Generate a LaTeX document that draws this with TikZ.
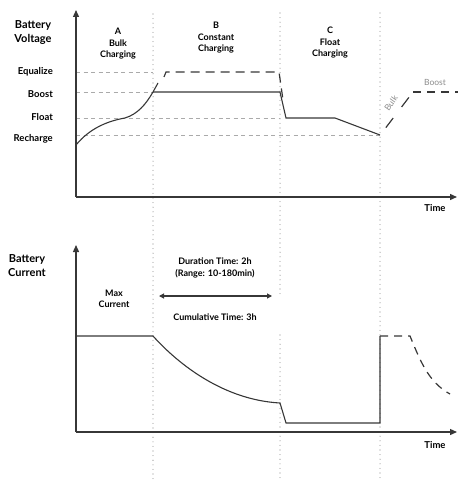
\documentclass[tikz,border=0pt]{standalone}
\usepackage{fontspec}
\setmainfont{Lato}
\usetikzlibrary{arrows.meta}
\definecolor{guide_gray}{RGB}{140,140,140}
\definecolor{level_gray}{RGB}{170,170,170}
\definecolor{curve_dark}{RGB}{55,55,55}
\tikzstyle{axis}=[line width=1.3pt,draw=curve_dark,-{Triangle[length=7pt,width=6pt]}]
\tikzstyle{phase}=[draw=guide_gray,line width=1.1pt,line cap=round,
  dash pattern=on 0pt off 4.6pt]
\tikzstyle{level}=[draw=level_gray,line width=0.5pt,dash pattern=on 4pt off 3.5pt]
\tikzstyle{curve}=[draw=curve_dark,line width=1.1pt]
\tikzstyle{future}=[draw=curve_dark,line width=1.2pt,dash pattern=on 8pt off 6pt]
\tikzstyle{title}=[font=\bfseries\fontsize{11}{14}\selectfont,align=center,inner sep=0pt]
\tikzstyle{lvl}=[font=\bfseries\fontsize{9.5}{10}\selectfont,anchor=east,inner sep=0pt]
\tikzstyle{lbl}=[font=\bfseries\fontsize{9}{11.5}\selectfont,align=center,inner sep=0pt]
\tikzstyle{note}=[font=\fontsize{8.5}{10}\selectfont,text=guide_gray,inner sep=0pt]

\begin{document}
\begin{tikzpicture}[x=1pt,y=-1pt]
    \useasboundingbox (0,0) rectangle (458,481);
    % phase boundaries
    \coordinate (pa1) at (153,14);
    \coordinate (pa2) at (153,481);
    \coordinate (pb1) at (280,13);
    \coordinate (pb2) at (280,298);
    \coordinate (pb3) at (280,335);
    \coordinate (pb4) at (280,481);
    \coordinate (pc1) at (380,13);
    \coordinate (pc2) at (380,481);
    \draw [style=phase] (pa1) to (pa2);
    \draw [style=phase] (pb1) to (pb2);
    \draw [style=phase] (pb3) to (pb4);
    \draw [style=phase] (pc1) to (pc2);
    % voltage levels
    \coordinate (eq0) at (76,72);
    \coordinate (eq1) at (153,72);
    \coordinate (bo0) at (76,92);
    \coordinate (bo1) at (153,92);
    \coordinate (fl0) at (76,118);
    \coordinate (fl1) at (280,118);
    \coordinate (re0) at (76,135);
    \coordinate (re1) at (380,135);
    \draw [style=level] (eq0) to (eq1);
    \draw [style=level] (bo0) to (bo1);
    \draw [style=level] (fl0) to (fl1);
    \draw [style=level] (re0) to (re1);
    % voltage axes
    \coordinate (vo) at (76,197);
    \coordinate (vtop) at (76,10);
    \coordinate (vend) at (457,197);
    \draw [style=axis] (vo) to (vtop);
    \draw [style=axis] (vo) to (vend);
    % voltage curve
    \coordinate (v0) at (76,145);
    \coordinate (v1) at (125,118);
    \coordinate (v2) at (153,92);
    \coordinate (v3) at (158,83);
    \coordinate (v4) at (280,92);
    \coordinate (v5) at (286,118);
    \coordinate (v6) at (335,118);
    \coordinate (v7) at (380,135);
    \draw [style=curve] (v0) .. controls (90,128) and (108,121) .. (v1)
      .. controls (138,114) and (146,104) .. (v2) to (v3);
    \draw [style=curve] (v2) to (v4) to (v5) to (v6) to (v7);
    \coordinate (e0) at (164,77);
    \coordinate (e1) at (166,72);
    \coordinate (e2) at (279,72);
    \coordinate (e3) at (283,100);
    \draw [style=future,dash pattern=on 9pt off 6pt] (e0) to (e1) to (e2) to (e3);
    \coordinate (n0) at (381,134);
    \coordinate (n1) at (413,92);
    \coordinate (n2) at (458,92);
    \draw [style=future,dash pattern=on 0pt off 8pt on 12pt off 6pt]
      (n0) to (n1);
    \draw [style=future] (n1) to (n2);
    % voltage labels
    \node [style=title] (vlabel) at (33,33) {Battery\\Voltage};
    \node [style=lvl] (eqlabel) at (53,72) {Equalize};
    \node [style=lvl] (bolabel) at (53,94) {Boost};
    \node [style=lvl] (fllabel) at (53,117) {Float};
    \node [style=lvl] (relabel) at (53,139) {Recharge};
    \node [style=lbl] (phaseA) at (118,44) {A\\Bulk\\Charging};
    \node [style=lbl] (phaseB) at (216,38) {B\\Constant\\Charging};
    \node [style=lbl] (phaseC) at (330,43) {C\\Float\\Charging};
    \node [style=note,rotate=55] (bulklabel) at (391,103) {Bulk};
    \node [style=note] (boostnote) at (435,82) {Boost};
    \node [style=title,font=\bfseries\fontsize{9.5}{11}\selectfont] (vtime) at (435,208) {Time};
    % current axes
    \coordinate (io) at (76,432);
    \coordinate (itop) at (76,245);
    \coordinate (iend) at (457,432);
    \draw [style=axis] (io) to (itop);
    \draw [style=axis] (io) to (iend);
    % current curve
    \coordinate (i0) at (76,336);
    \coordinate (i1) at (153,336);
    \coordinate (i2) at (280,403);
    \coordinate (i3) at (286,423);
    \coordinate (i4) at (380,423);
    \coordinate (i5) at (380,336);
    \coordinate (i6) at (410,336);
    \coordinate (i7) at (450,394);
    \draw [style=curve] (i0) to (i1) .. controls (180,366) and (225,400) .. (i2)
      to (i3) to (i4) to (i5);
    \draw [style=future] (i5) to (i6) .. controls (420,360) and (428,382) .. (i7);
    % duration arrow
    \coordinate (d0) at (159,296);
    \coordinate (d1) at (272,296);
    \draw [line width=1.1pt,draw=curve_dark,{Triangle[length=5pt,width=5pt]}-{Triangle[length=5pt,width=5pt]}]
      (d0) to (d1);
    % current labels
    \node [style=title] (ilabel) at (27,266) {Battery\\Current};
    \node [style=lbl] (maxlabel) at (114,299) {Max\\Current};
    \node [style=lbl] (durlabel) at (215,268) {Duration Time: 2h\\(Range: 10-180min)};
    \node [style=lbl] (cumlabel) at (215,317) {Cumulative Time: 3h};
    \node [style=title,font=\bfseries\fontsize{9.5}{11}\selectfont] (itime) at (435,445) {Time};
  \end{tikzpicture}
\end{document}
